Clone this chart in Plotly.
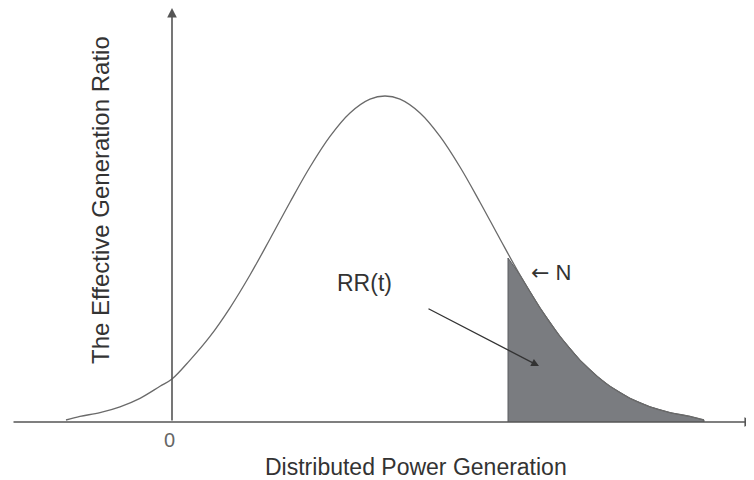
import plotly.graph_objects as go

# Bell curve (x: power generation, y: effective ratio)
curve_x = [-1.06, -0.92, -0.72, -0.52, -0.32, -0.12, 0.00, 0.18, 0.38, 0.58, 0.78, 0.98,
           1.18, 1.38, 1.58, 1.78, 1.98, 2.13, 2.28, 2.48, 2.68, 2.88, 3.08, 3.28,
           3.48, 3.68, 3.88, 4.08, 4.26, 4.38, 4.58, 4.78, 4.98, 5.18, 5.32]
curve_y = [0.02, 0.056, 0.094, 0.152, 0.237, 0.357, 0.43, 0.619, 0.856, 1.142, 1.47, 1.83,
           2.198, 2.55, 2.856, 3.09, 3.228, 3.26, 3.228, 3.09, 2.856, 2.55, 2.198, 1.83,
           1.47, 1.142, 0.856, 0.619, 0.45, 0.357, 0.237, 0.152, 0.094, 0.056, 0.02]

# Shaded tail RR(t) beyond threshold N
tail_x = [3.36, 3.36, 3.48, 3.68, 3.88, 4.08, 4.26, 4.38, 4.58, 4.78, 4.98, 5.18, 5.32, 5.32]
tail_y = [0.00, 1.64, 1.47, 1.142, 0.856, 0.619, 0.45, 0.357, 0.237, 0.152, 0.094, 0.056, 0.02, 0.0]

FONT = "Arial, Liberation Sans, sans-serif"

fig = go.Figure()
fig.add_trace(go.Scatter(x=tail_x, y=tail_y, fill="toself", mode="lines",
                         fillcolor="#7a7c80", line=dict(color="#5a5c60", width=1),
                         hoverinfo="skip", showlegend=False))
fig.add_trace(go.Scatter(x=curve_x, y=curve_y, mode="lines", line=dict(color="#6a6a6a", width=1.3),
                         line_shape="spline", hoverinfo="skip", showlegend=False))

# Axes drawn as arrows
fig.add_annotation(x=5.82, y=0, ax=-1.60, ay=0, xref="x", yref="y", axref="x", ayref="y",
                   showarrow=True, arrowhead=2, arrowsize=1.2, arrowwidth=1.6, arrowcolor="#555555", text="")
fig.add_annotation(x=0, y=4.14, ax=0, ay=0, xref="x", yref="y", axref="x", ayref="y",
                   showarrow=True, arrowhead=2, arrowsize=1.2, arrowwidth=1.6, arrowcolor="#555555", text="")
# Pointer arrow to the shaded area
fig.add_annotation(x=3.67, y=0.56, ax=2.55, ay=1.14, xref="x", yref="y", axref="x", ayref="y",
                   showarrow=True, arrowhead=2, arrowsize=1.2, arrowwidth=1.3, arrowcolor="#333333", text="")

fig.add_annotation(x=1.92, y=1.39, text="RR(t)", showarrow=False, xref="x", yref="y",
                   font=dict(family=FONT, size=23, color="#333333"))
fig.add_annotation(x=3.79, y=1.50,
                   text="<span style='font-family:DejaVu Sans'>←</span> N", showarrow=False,
                   xref="x", yref="y", font=dict(family=FONT, size=22, color="#333333"))
fig.add_annotation(x=-0.03, y=-0.18, text="0", showarrow=False, xref="x", yref="y",
                   font=dict(family=FONT, size=20, color="#666666"))
fig.add_annotation(x=2.44, y=-0.45, text="Distributed Power Generation", showarrow=False, xref="x", yref="y",
                   font=dict(family=FONT, size=23, color="#333333"))
fig.add_annotation(x=-0.72, y=2.22, text="The Effective Generation Ratio", showarrow=False, xref="x", yref="y",
                   textangle=-90, font=dict(family=FONT, size=24, color="#333333"))

fig.update_layout(width=754, height=480, margin=dict(l=0, r=0, t=0, b=0),
                  paper_bgcolor="white", plot_bgcolor="white",
                  xaxis=dict(range=[-1.64, 5.90], visible=False, fixedrange=True),
                  yaxis=dict(range=[-0.66, 4.14], visible=False, fixedrange=True))
fig.write_html("out.html")
